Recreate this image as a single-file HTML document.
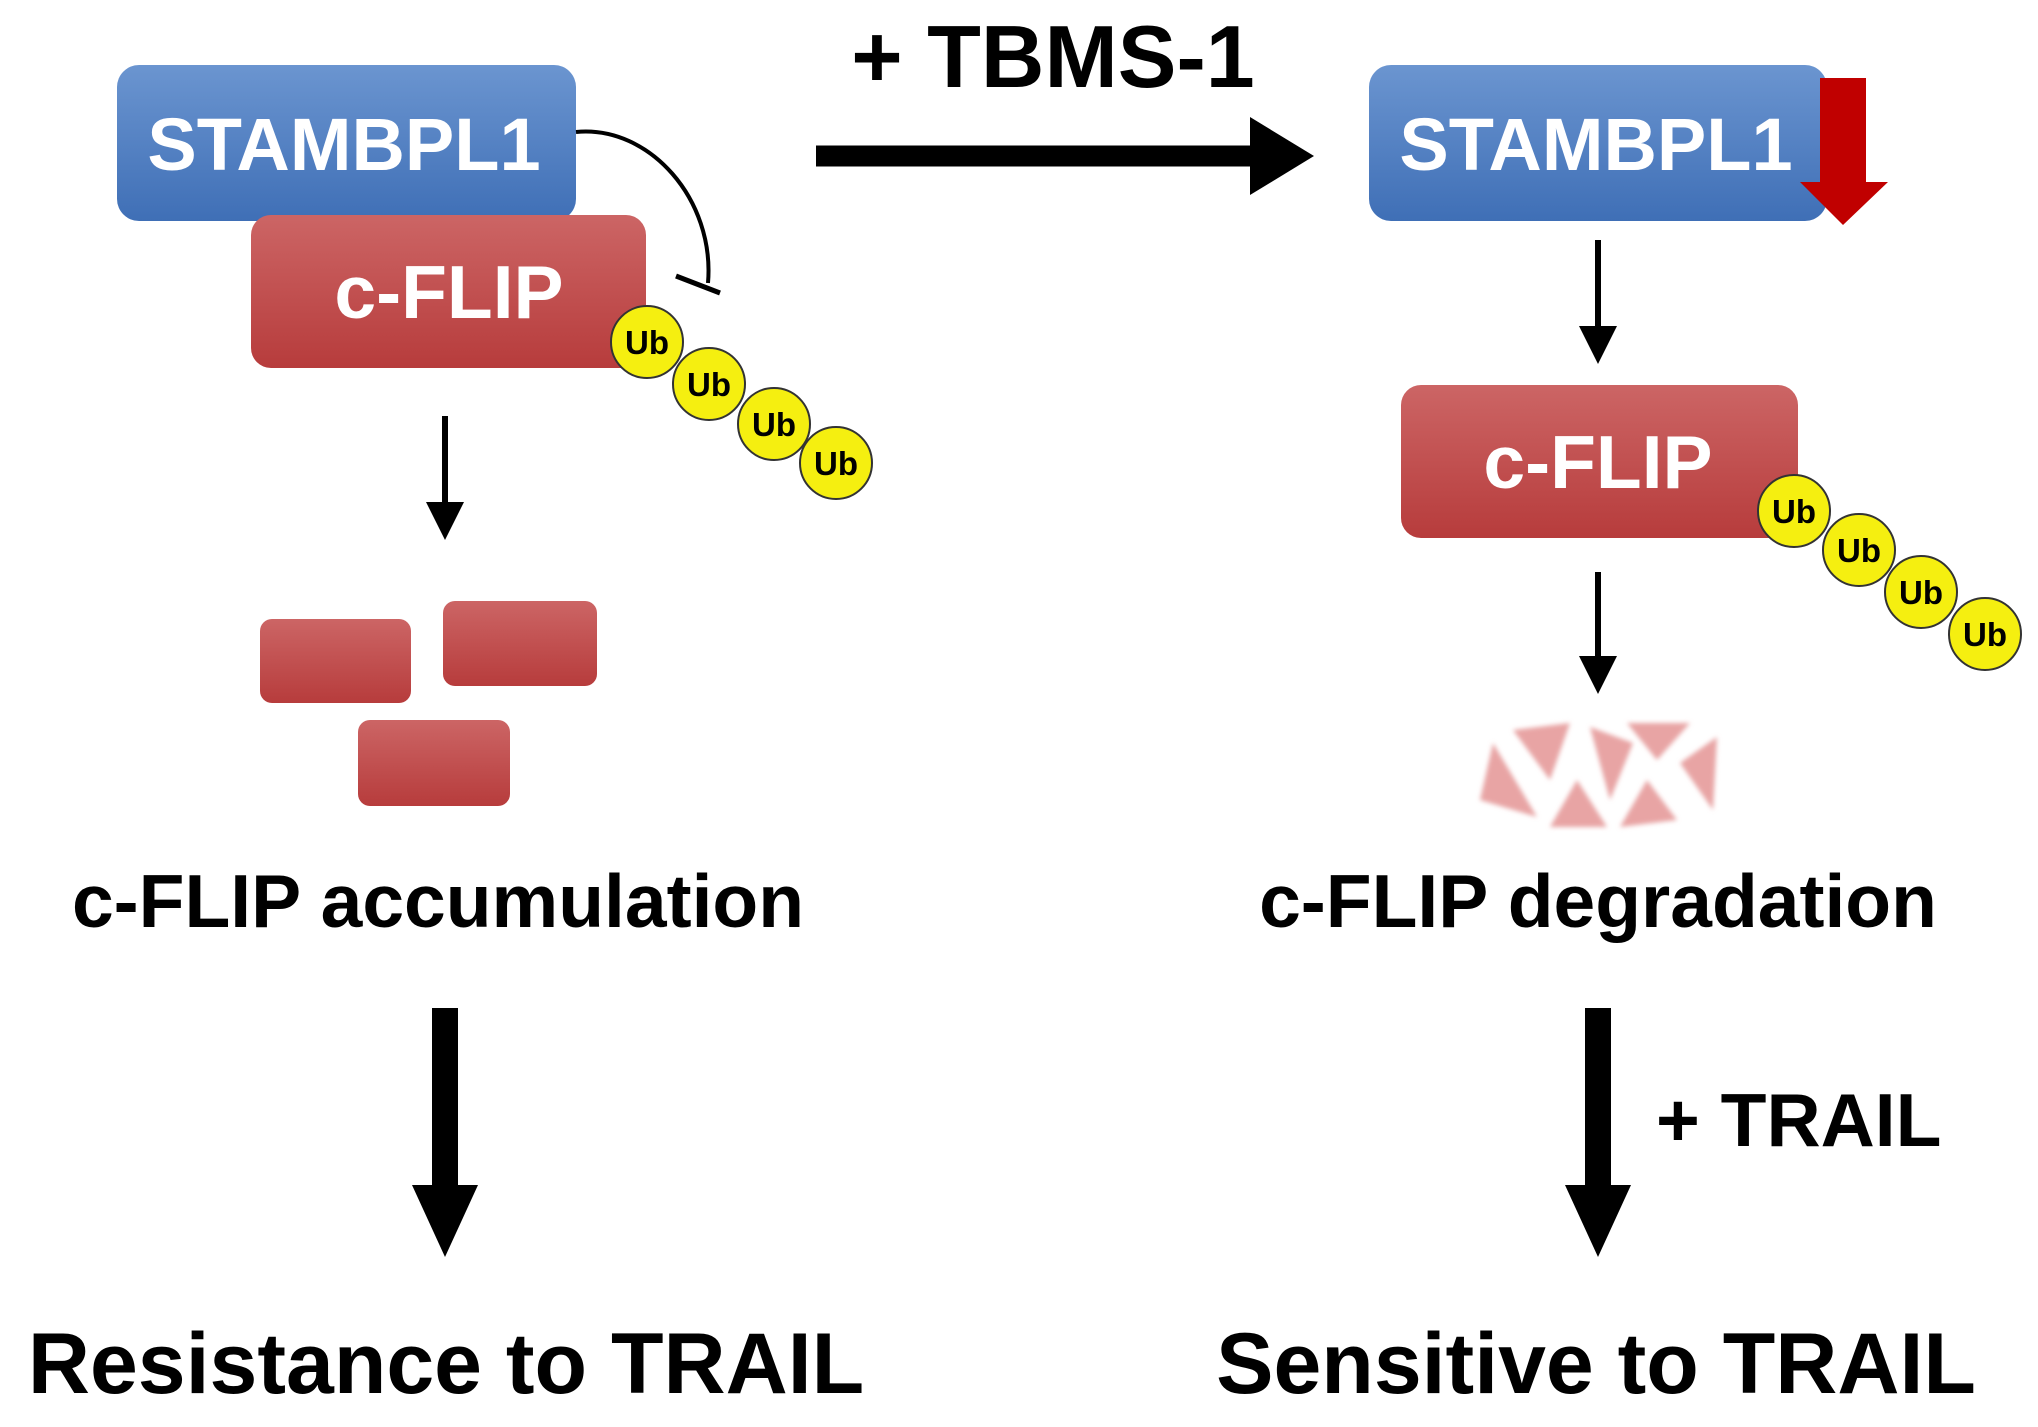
<!DOCTYPE html>
<html><head><meta charset="utf-8"><style>
html,body{margin:0;padding:0;background:#fff;}
svg{display:block;}
text{font-family:"Liberation Sans",Arial,sans-serif;font-weight:bold;}
</style></head><body>
<svg width="2038" height="1427" viewBox="0 0 2038 1427" xmlns="http://www.w3.org/2000/svg">
<defs>
<linearGradient id="bl" x1="0" y1="0" x2="0" y2="1"><stop offset="0" stop-color="#6b95d0"/><stop offset="1" stop-color="#3f6fb6"/></linearGradient>
<linearGradient id="rd" x1="0" y1="0" x2="0" y2="1"><stop offset="0" stop-color="#cc6565"/><stop offset="1" stop-color="#b73c3c"/></linearGradient>
<filter id="blur"><feGaussianBlur stdDeviation="2.5"/></filter>
</defs>

<!-- left -->
<rect x="117" y="65" width="459" height="156" rx="22" fill="url(#bl)"/>
<text x="344" y="170" font-size="74" fill="#fff" text-anchor="middle">STAMBPL1</text>
<rect x="251" y="215" width="395" height="153" rx="20" fill="url(#rd)"/>
<text x="449" y="318" font-size="75" fill="#fff" text-anchor="middle">c-FLIP</text>
<path d="M576 132 C650 125 715 200 708 283" fill="none" stroke="#000" stroke-width="4"/>
<line x1="676" y1="276" x2="720" y2="293" stroke="#000" stroke-width="5"/>
<g stroke="#333" stroke-width="2" fill="#f5ef10">
<circle cx="647" cy="342" r="36"/><circle cx="709" cy="384" r="36"/><circle cx="774" cy="424" r="36"/><circle cx="836" cy="463" r="36"/>
</g>
<g font-size="33" fill="#000" text-anchor="middle">
<text x="647" y="354">Ub</text><text x="709" y="396">Ub</text><text x="774" y="436">Ub</text><text x="836" y="475">Ub</text>
</g>
<line x1="445" y1="416" x2="445" y2="505" stroke="#000" stroke-width="6"/>
<polygon points="426,502 464,502 445,540" fill="#000"/>
<rect x="260" y="619" width="151" height="84" rx="12" fill="url(#rd)"/>
<rect x="443" y="601" width="154" height="85" rx="12" fill="url(#rd)"/>
<rect x="358" y="720" width="152" height="86" rx="12" fill="url(#rd)"/>
<text x="438" y="927" font-size="75" fill="#000" text-anchor="middle">c-FLIP accumulation</text>
<line x1="445" y1="1008" x2="445" y2="1190" stroke="#000" stroke-width="26"/>
<polygon points="412,1185 478,1185 445,1257" fill="#000"/>
<text x="446" y="1393" font-size="86" fill="#000" text-anchor="middle">Resistance to TRAIL</text>

<!-- top arrow -->
<text x="1053" y="87" font-size="88" fill="#000" text-anchor="middle">+ TBMS-1</text>
<line x1="816" y1="156" x2="1255" y2="156" stroke="#000" stroke-width="21"/>
<polygon points="1250,117 1314,156 1250,195" fill="#000"/>

<!-- right -->
<rect x="1369" y="65" width="458" height="156" rx="22" fill="url(#bl)"/>
<text x="1596" y="170" font-size="74" fill="#fff" text-anchor="middle">STAMBPL1</text>
<rect x="1820" y="78" width="46" height="106" fill="#c00000"/>
<polygon points="1800,182 1888,182 1843,225" fill="#c00000"/>
<line x1="1598" y1="240" x2="1598" y2="330" stroke="#000" stroke-width="6"/>
<polygon points="1579,326 1617,326 1598,364" fill="#000"/>
<rect x="1401" y="385" width="397" height="153" rx="20" fill="url(#rd)"/>
<text x="1598" y="488" font-size="75" fill="#fff" text-anchor="middle">c-FLIP</text>
<g stroke="#333" stroke-width="2" fill="#f5ef10">
<circle cx="1794" cy="511" r="36"/><circle cx="1859" cy="550" r="36"/><circle cx="1921" cy="592" r="36"/><circle cx="1985" cy="634" r="36"/>
</g>
<g font-size="33" fill="#000" text-anchor="middle">
<text x="1794" y="523">Ub</text><text x="1859" y="562">Ub</text><text x="1921" y="604">Ub</text><text x="1985" y="646">Ub</text>
</g>
<line x1="1598" y1="572" x2="1598" y2="660" stroke="#000" stroke-width="6"/>
<polygon points="1579,656 1617,656 1598,694" fill="#000"/>
<g fill="#e8a4a4" filter="url(#blur)">
<polygon points="1493,743 1480,800 1537,817"/>
<polygon points="1513,730 1570,723 1550,780"/>
<polygon points="1577,780 1550,827 1607,827"/>
<polygon points="1590,727 1633,743 1610,800"/>
<polygon points="1627,723 1690,723 1657,760"/>
<polygon points="1647,780 1620,827 1677,820"/>
<polygon points="1680,763 1717,737 1713,810"/>
</g>
<text x="1598" y="927" font-size="75" fill="#000" text-anchor="middle">c-FLIP degradation</text>
<line x1="1598" y1="1008" x2="1598" y2="1190" stroke="#000" stroke-width="26"/>
<polygon points="1565,1185 1631,1185 1598,1257" fill="#000"/>
<text x="1656" y="1146" font-size="75" fill="#000">+ TRAIL</text>
<text x="1596" y="1393" font-size="86" fill="#000" text-anchor="middle">Sensitive to TRAIL</text>
</svg>
</body></html>
